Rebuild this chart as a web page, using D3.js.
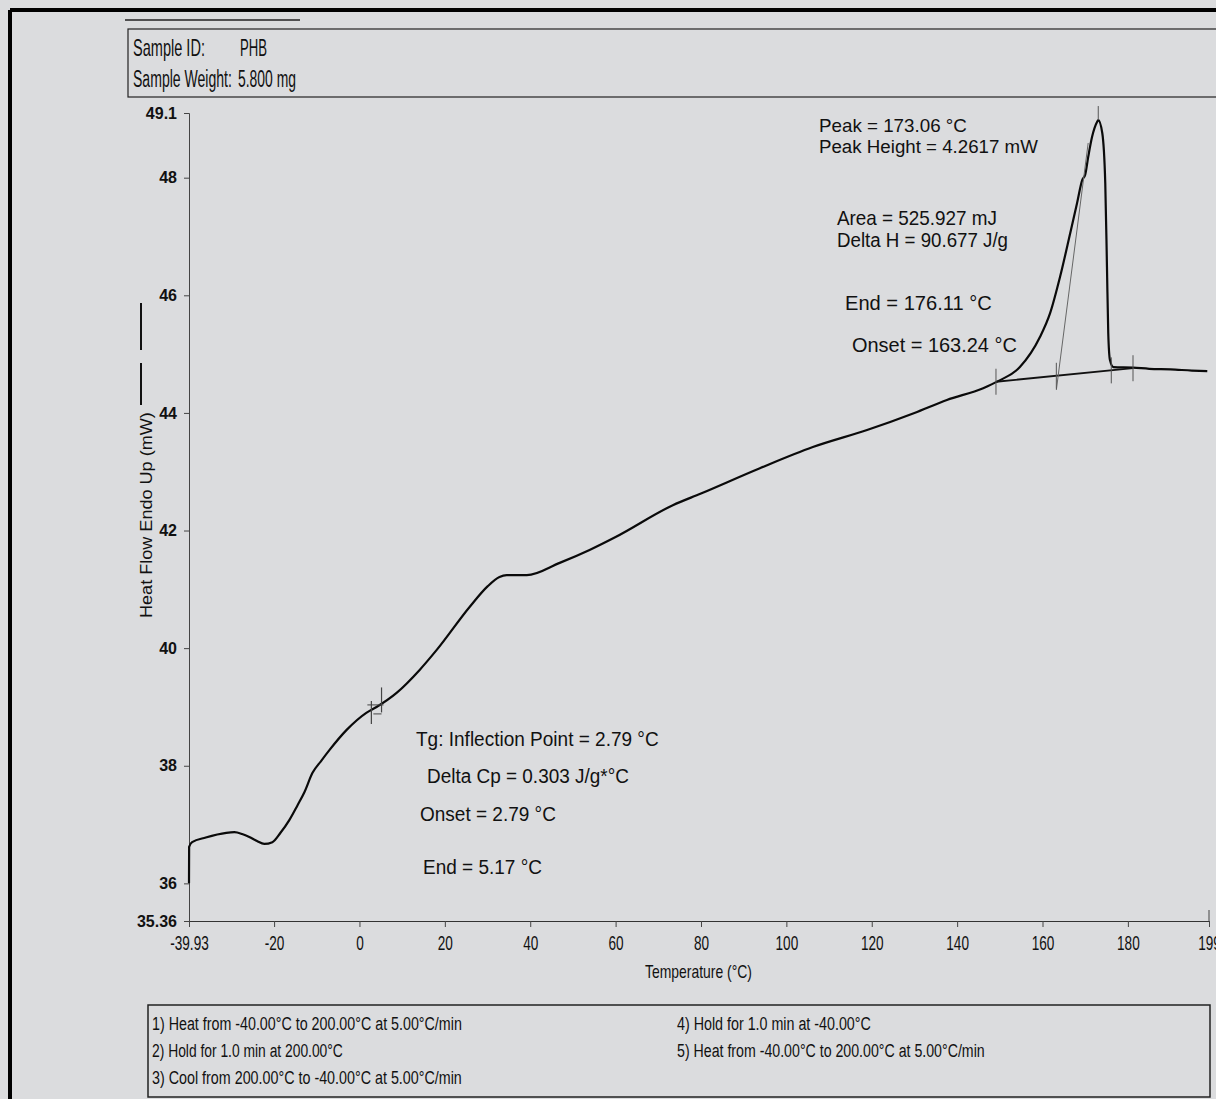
<!DOCTYPE html>
<html>
<head>
<meta charset="utf-8">
<script src="https://cdn.jsdelivr.net/npm/d3@7"></script>
<style>
  html, body { margin: 0; padding: 0; background: #dbdcde; }
  svg { display: block; }
  text { font-family: "Liberation Sans", Arial, sans-serif; fill: #111; }
</style>
</head>
<body>
<svg id="chart" width="1216" height="1099"></svg>
<script>
"use strict";

// ---- data ----
const temperature = [-39.93, -39.9, -39.2, -36, -31.2, -29.3, -27.5, -25.8, -24, -22.3, -20.4, -18.5,
  -16.4, -14.5, -12.9, -11.0, -9, -7.0, -3.0, 1.6, 4.0, 8.7, 14.1, 18.1, 25.8, 30, 32.8, 34.5,
  39.2, 46.9, 53.9, 60, 73.4, 80, 93.8, 106.2, 118.9, 130, 137.6, 146.1, 149.6, 154.7, 159.4,
  161.8, 164.1, 166.5, 168.1, 169.3, 170.0, 170.7, 171.6, 172.8, 173.06, 174.0, 174.7, 175.1,
  175.4, 175.8, 176.6, 181.2, 185, 190, 195, 198.6];
const heatFlow = [36.00, 36.62, 36.70, 36.78, 36.86, 36.87, 36.84, 36.79, 36.72, 36.67, 36.70, 36.86,
  37.08, 37.33, 37.55, 37.88, 38.08, 38.27, 38.61, 38.90, 39.00, 39.24, 39.63, 39.97, 40.70, 41.05, 41.21, 41.24,
  41.24, 41.45, 41.67, 41.89, 42.43, 42.63, 43.06, 43.42, 43.71, 44.00, 44.22, 44.42, 44.54, 44.78, 45.29,
  45.70, 46.31, 47.06, 47.57, 47.96, 48.05, 48.35, 48.69, 48.95, 48.98, 48.76, 47.91, 46.48,
  45.36, 44.90, 44.78, 44.77, 44.75, 44.74, 44.72, 44.71];

const xTicks = [-39.93, -20, 0, 20, 40, 60, 80, 100, 120, 140, 160, 180, 199];
const xTickLabels = ["-39.93", "-20", "0", "20", "40", "60", "80", "100", "120", "140", "160", "180", "199"];
const yTicks = [49.1, 48, 46, 44, 42, 40, 38, 36, 35.36];
const yTickLabels = ["49.1", "48", "46", "44", "42", "40", "38", "36", "35.36"];

// melting peak analysis: baseline ends, tangent, markers
const peakBaseline = [[149.1, 44.53], [181.2, 44.76]];
const peakTangent = [[163.24, 44.39], [170.7, 48.59]];
const peakMarks = [149.1, 163.24, 176.11, 181.2];
const peakTemp = 173.06;
// glass transition markers
const tgOnset = 2.79, tgEnd = 5.17;

const peakNotes = ["Peak = 173.06 °C", "Peak Height = 4.2617 mW", "Area = 525.927 mJ",
  "Delta H = 90.677 J/g", "End = 176.11 °C", "Onset = 163.24 °C"];
const tgNotes = ["Tg: Inflection Point = 2.79 °C", "Delta Cp = 0.303 J/g*°C", "Onset = 2.79 °C", "End = 5.17 °C"];
const sampleInfo = [["Sample ID:", "PHB"], ["Sample Weight:", "5.800 mg"]];
const methodSteps = ["1) Heat from -40.00°C to 200.00°C at 5.00°C/min", "2) Hold for 1.0 min at 200.00°C",
  "3) Cool from 200.00°C to -40.00°C at 5.00°C/min", "4) Hold for 1.0 min at -40.00°C",
  "5) Heat from -40.00°C to 200.00°C at 5.00°C/min"];

const svg = d3.select("#chart");

// text squeezed/stretched horizontally to a measured width
function fitText(g, x, y, str, size, width) {
  let t = g.append("text")
    .attr("x", 0).attr("y", 0)
    .style("font-size", size + "px")
    .text(str);
  let w = t.node().getComputedTextLength();
  let s = width ? width / w : 1;
  t.attr("transform", `translate(${x},${y}) scale(${s},1)`);
  return t;
}

// frame of the scanned sheet
svg.append("line").attr("x1", 10).attr("x2", 1216).attr("y1", 10).attr("y2", 10)
  .attr("stroke", "#000").attr("stroke-width", 4);
svg.append("line").attr("x1", 10).attr("x2", 10).attr("y1", 10).attr("y2", 1099)
  .attr("stroke", "#000").attr("stroke-width", 4);
svg.append("line").attr("x1", 125).attr("x2", 300).attr("y1", 20).attr("y2", 20)
  .attr("stroke", "#222").attr("stroke-width", 1.5);

// header box
svg.append("rect").attr("x", 128).attr("y", 29).attr("width", 1100).attr("height", 68)
  .attr("fill", "none").attr("stroke", "#222").attr("stroke-width", 1.2);
fitText(svg, 133, 56, sampleInfo[0][0], 23, 72);
fitText(svg, 240, 56, sampleInfo[0][1], 23, 27);
fitText(svg, 133, 87, sampleInfo[1][0], 23, 99);
fitText(svg, 238, 87, sampleInfo[1][1], 23, 58);

// scales
const x = d3.scaleLinear().domain([-39.93, 199]).range([189, 1209]);
const y = d3.scaleLinear().domain([35.36, 49.1]).range([921, 113]);

// axes
const yAxis = svg.append("g")
  .attr("transform", "translate(189,0)")
  .call(d3.axisLeft(y).tickValues(yTicks).tickSize(5).tickPadding(7)
    .tickFormat((d, i) => yTickLabels[i]));
yAxis.select(".domain").attr("stroke", "#444").attr("stroke-width", 1);
yAxis.selectAll(".tick line").attr("stroke", "#444");
yAxis.selectAll(".tick text").style("font-size", "16px").style("font-weight", "bold")
  .style("font-family", "'Liberation Sans', Arial, sans-serif").attr("fill", "#111");

const xAxis = svg.append("g")
  .attr("transform", "translate(0,921)")
  .call(d3.axisBottom(x).tickValues(xTicks).tickSize(6).tickSizeOuter(0)
    .tickFormat((d, i) => xTickLabels[i]));
xAxis.select(".domain").attr("stroke", "#333").attr("stroke-width", 1.2);
xAxis.selectAll(".tick line").attr("stroke", "#444");
xAxis.selectAll(".tick text").style("font-size", "20px")
  .style("font-family", "'Liberation Sans', Arial, sans-serif").attr("fill", "#111")
  .attr("y", 0).attr("dy", 0)
  .attr("transform", "translate(0,29) scale(0.68,1)");
// end tick at the right edge points upward
svg.append("line").attr("x1", x(199)).attr("x2", x(199)).attr("y1", 921).attr("y2", 910)
  .attr("stroke", "#444");

// axis titles
const yTitle = svg.append("g").attr("transform", "translate(152,515) rotate(-90)");
fitText(yTitle, -103, 0, "Heat Flow Endo Up (mW)", 17, 206);
svg.append("line").attr("x1", 141).attr("x2", 141).attr("y1", 303).attr("y2", 350)
  .attr("stroke", "#111").attr("stroke-width", 2);
svg.append("line").attr("x1", 141).attr("x2", 141).attr("y1", 363).attr("y2", 405)
  .attr("stroke", "#111").attr("stroke-width", 2);
fitText(svg, 645, 978, "Temperature (°C)", 18, 107);

// thermogram curve
const line = d3.line().x(d => x(d[0])).y(d => y(d[1])).curve(d3.curveMonotoneX);
const curve = temperature.map((t, i) => [t, heatFlow[i]]);
svg.append("path").datum(curve)
  .attr("d", line).attr("fill", "none").attr("stroke", "#0a0a0a").attr("stroke-width", 2.2)
  .attr("stroke-linejoin", "round");

// peak baseline + tangent
svg.append("path").datum(peakBaseline).attr("d", d3.line().x(d => x(d[0])).y(d => y(d[1])))
  .attr("stroke", "#111").attr("stroke-width", 1.8).attr("fill", "none");
svg.append("path").datum(peakTangent).attr("d", d3.line().x(d => x(d[0])).y(d => y(d[1])))
  .attr("stroke", "#666").attr("stroke-width", 1).attr("fill", "none");
const baseAt = d3.scaleLinear().domain([peakBaseline[0][0], peakBaseline[1][0]])
  .range([peakBaseline[0][1], peakBaseline[1][1]]);
svg.selectAll(".pmark").data(peakMarks).enter().append("line")
  .attr("class", "pmark")
  .attr("x1", d => x(d)).attr("x2", d => x(d))
  .attr("y1", d => y(baseAt(d)) - 13).attr("y2", d => y(baseAt(d)) + 13)
  .attr("stroke", "#555").attr("stroke-width", 1);
svg.append("line").attr("x1", x(peakTemp)).attr("x2", x(peakTemp))
  .attr("y1", y(48.98) - 14).attr("y2", y(48.98))
  .attr("stroke", "#555").attr("stroke-width", 1);

// Tg markers
const tgY = d3.scaleLinear().domain(temperature).range(heatFlow);
[tgOnset, tgEnd].forEach((t, i) => {
  let cy = y(tgY(t));
  svg.append("line").attr("x1", x(t)).attr("x2", x(t))
    .attr("y1", cy - (i ? 16 : 9)).attr("y2", cy + (i ? 9 : 14))
    .attr("stroke", "#444").attr("stroke-width", 1.2);
});
svg.append("line").attr("x1", x(tgOnset) - 4).attr("x2", x(tgEnd) + 2)
  .attr("y1", y(tgY(tgOnset)) - 5).attr("y2", y(tgY(tgOnset)) - 5)
  .attr("stroke", "#444").attr("stroke-width", 1);
svg.append("line").attr("x1", x(tgOnset) + 2).attr("x2", x(tgEnd))
  .attr("y1", y(tgY(tgOnset)) + 4).attr("y2", y(tgY(tgOnset)) + 4)
  .attr("stroke", "#444").attr("stroke-width", 1);

// annotations
const peakPos = [[819, 132, 148, 19], [819, 153, 219, 19], [837, 225, 160, 20], [837, 247, 171, 20],
  [845, 310, 147, 21], [852, 352, 165, 21]];
peakNotes.forEach((s, i) => fitText(svg, peakPos[i][0], peakPos[i][1], s, peakPos[i][3], peakPos[i][2]));
const tgPos = [[416, 746, 243], [427, 783, 202], [420, 821, 136], [423, 874, 119]];
tgNotes.forEach((s, i) => fitText(svg, tgPos[i][0], tgPos[i][1], s, 21, tgPos[i][2]));

// method box
svg.append("rect").attr("x", 148).attr("y", 1005).attr("width", 1062).attr("height", 92)
  .attr("fill", "none").attr("stroke", "#222").attr("stroke-width", 1.5);
const stepPos = [[152, 1030, 310], [152, 1057, 191], [152, 1084, 310], [677, 1030, 194], [677, 1057, 308]];
methodSteps.forEach((s, i) => fitText(svg, stepPos[i][0], stepPos[i][1], s, 19, stepPos[i][2]));
</script>
</body>
</html>
